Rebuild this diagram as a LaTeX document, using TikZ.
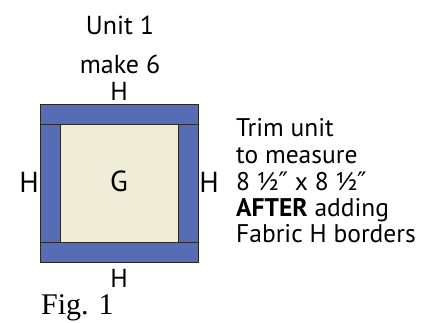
\documentclass[tikz,border=0pt]{standalone}
\usepackage{fontspec}
\setmainfont{PT Sans}
\newfontfamily\figfont{Liberation Serif}
\newfontfamily\primefont{DejaVu Sans}
\newcommand{\inchmark}{{\primefont ″}}
\definecolor{hblue}{RGB}{86,108,181}
\definecolor{gcream}{RGB}{239,236,216}
\definecolor{edge}{RGB}{40,40,40}
\begin{document}
\begin{tikzpicture}[x=1pt,y=-1pt,
  lbl/.style={inner sep=0pt, anchor=base, font=\fontsize{26}{30}\selectfont},
  sidelbl/.style={inner sep=0pt, anchor=base, font=\fontsize{29}{32}\selectfont},
  note/.style={inner sep=0pt, anchor=base west, font=\fontsize{25.5}{28}\selectfont},
  hstrip/.style={fill=hblue, draw=edge, line width=0.8pt},
  gpatch/.style={fill=gcream, draw=edge, line width=0.8pt}]
\useasboundingbox (0,0) rectangle (422,322);
% square
\filldraw[hstrip] (40,104) rectangle (198,124);
\filldraw[hstrip] (40,242) rectangle (198,262);
\filldraw[hstrip] (40,124) rectangle (60,242);
\filldraw[hstrip] (178,124) rectangle (198,242);
\filldraw[gpatch] (60,124) rectangle (178,242);
% labels
\node[lbl] (t1) at (120,34) {Unit 1};
\node[lbl] (t2) at (120,73) {make 6};
\node[lbl] (htop) at (119,100) {H};
\node[sidelbl] (g) at (119,191) {G};
\node[sidelbl] (hl) at (29,192) {H};
\node[sidelbl] (hr) at (209,192) {H};
\node[lbl] (hbot) at (119,287) {H};
\node[inner sep=0pt, anchor=base west, font=\figfont\fontsize{30}{34}\selectfont] (fig) at (41,314) {Fig. 1};
% note
\node[note] (n1) at (236,136) {Trim unit};
\node[note] (n2) at (236,163) {to measure};
\node[note] (n3) at (236,190) {8 ½\inchmark{} x 8 ½\inchmark};
\node[note] (n4) at (236,216) {\textbf{AFTER} adding};
\node[note] (n5) at (236,242) {Fabric H borders};
\end{tikzpicture}
\end{document}
